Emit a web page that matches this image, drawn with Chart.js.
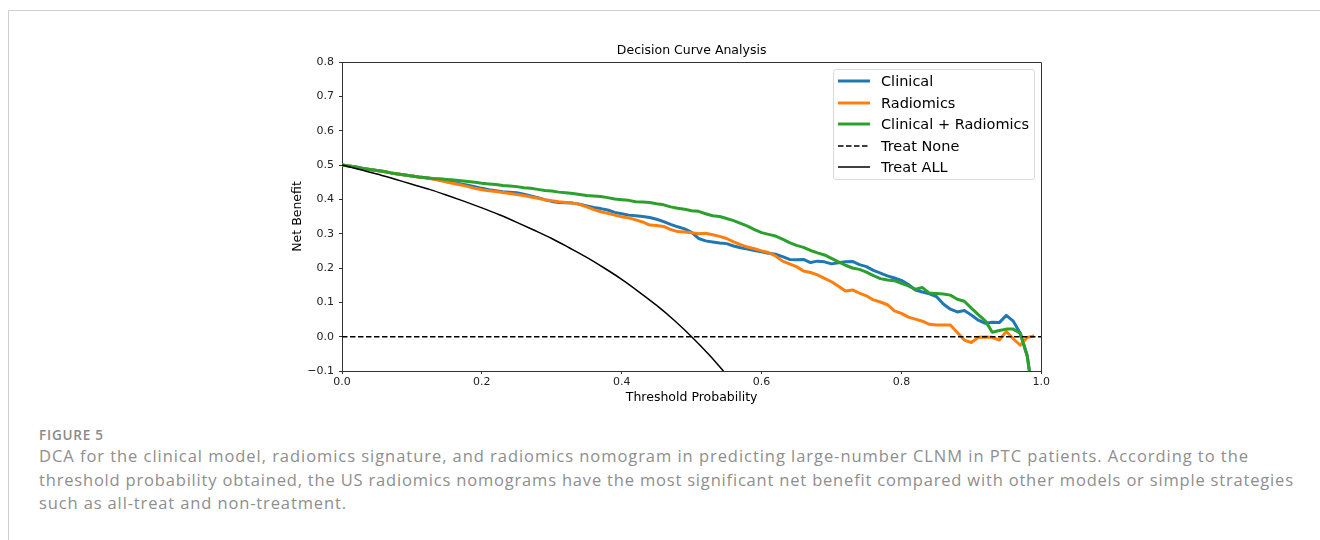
<!DOCTYPE html>
<html>
<head>
<meta charset="utf-8">
<script src="https://cdn.jsdelivr.net/npm/chart.js@4.4.1/dist/chart.umd.min.js"></script>
<style>
  html, body { margin: 0; padding: 0; background: #fff; width: 1320px; height: 540px; overflow: hidden; }
  #frame { position: absolute; left: 8px; top: 10px; width: 1330px; height: 560px; border-top: 1px solid #cfcfcf; border-left: 1px solid #cfcfcf; }
  #wrap { position: absolute; left: 240px; top: 20px; width: 812px; height: 400px; }
  #legend { position: absolute; left: 833px; top: 69px; width: 200px; height: 109px; border: 1px solid #dadada; border-radius: 3px; background: rgba(255,255,255,0.8); font-family: "DejaVu Sans"; font-size: 14.5px; color: #000; }
  .row { position: absolute; left: 0; height: 20px; line-height: 20px; white-space: nowrap; }
  .row svg { position: absolute; left: 4px; top: 8px; }
  .row span { position: absolute; left: 47px; top: 0; }
  #figlabel { position: absolute; left: 39px; top: 426.5px; font-family: "Open Sans"; font-weight: 600; font-size: 13.5px; line-height: 16px; color: #8a8a8a; white-space: nowrap; }
  .cap { position: absolute; left: 39px; font-family: "Open Sans"; font-weight: 400; font-size: 16.5px; color: #8e8e8e; white-space: nowrap; line-height: 24px; }
</style>
</head>
<body>
<div id="frame"></div>
<div id="wrap"><canvas id="c" width="812" height="400"></canvas></div>
<div id="legend"></div>
<div id="figlabel" data-w="64">FIGURE 5</div>
<div class="cap" data-w="1209" style="top:444px">DCA for the clinical model, radiomics signature, and radiomics nomogram in predicting large-number CLNM in PTC patients. According to the</div>
<div class="cap" data-w="1254" style="top:467.5px">threshold probability obtained, the US radiomics nomograms have the most significant net benefit compared with other models or simple strategies</div>
<div class="cap" data-w="307" style="top:491px">such as all-treat and non-treatment.</div>
<script>
const thresholds = [0.00,0.01,0.02,0.03,0.04,0.05,0.06,0.07,0.08,0.09,
  0.10,0.11,0.12,0.13,0.14,0.15,0.16,0.17,0.18,0.19,
  0.20,0.21,0.22,0.23,0.24,0.25,0.26,0.27,0.28,0.29,
  0.30,0.31,0.32,0.33,0.34,0.35,0.36,0.37,0.38,0.39,
  0.40,0.41,0.42,0.43,0.44,0.45,0.46,0.47,0.48,0.49,
  0.50,0.51,0.52,0.53,0.54,0.55,0.56,0.57,0.58,0.59,
  0.60,0.61,0.62,0.63,0.64,0.65,0.66,0.67,0.68,0.69,
  0.70,0.71,0.72,0.73,0.74,0.75,0.76,0.77,0.78,0.79,
  0.80,0.81,0.82,0.83,0.84,0.85,0.86,0.87,0.88,0.89,
  0.90,0.91,0.92,0.93,0.94,0.95,0.96,0.97,0.98,0.99];

const clinical = [0.500,0.497,0.494,0.490,0.487,0.484,0.481,0.477,0.474,0.471,
  0.468,0.465,0.463,0.460,0.457,0.453,0.449,0.445,0.441,0.437,
  0.432,0.428,0.425,0.422,0.421,0.419,0.415,0.410,0.405,0.399,
  0.394,0.391,0.390,0.389,0.386,0.381,0.376,0.373,0.369,0.362,
  0.358,0.354,0.352,0.350,0.347,0.342,0.335,0.327,0.320,0.314,
  0.304,0.286,0.279,0.276,0.273,0.271,0.264,0.259,0.255,0.251,
  0.247,0.243,0.240,0.233,0.225,0.224,0.225,0.216,0.220,0.218,
  0.212,0.215,0.218,0.219,0.210,0.204,0.193,0.185,0.177,0.171,
  0.164,0.152,0.136,0.130,0.125,0.117,0.095,0.080,0.072,0.076,
  0.063,0.048,0.039,0.042,0.041,0.062,0.045,0.010,-0.055,-0.200];

const radiomics = [0.500,0.497,0.494,0.490,0.487,0.484,0.481,0.477,0.474,0.471,
  0.468,0.465,0.463,0.459,0.455,0.450,0.446,0.442,0.437,0.432,
  0.428,0.425,0.423,0.420,0.417,0.414,0.411,0.407,0.403,0.399,
  0.396,0.393,0.391,0.389,0.385,0.378,0.370,0.364,0.359,0.354,
  0.349,0.346,0.340,0.334,0.325,0.324,0.321,0.312,0.306,0.305,
  0.303,0.300,0.301,0.297,0.292,0.286,0.276,0.268,0.261,0.256,
  0.250,0.245,0.235,0.220,0.212,0.204,0.191,0.187,0.180,0.170,
  0.160,0.147,0.133,0.136,0.127,0.119,0.107,0.101,0.093,0.075,
  0.068,0.057,0.051,0.045,0.036,0.034,0.034,0.034,0.012,-0.010,
  -0.017,-0.002,-0.001,-0.002,-0.010,0.015,-0.006,-0.025,-0.002,0.002];

const combined = [0.500,0.497,0.494,0.490,0.487,0.484,0.481,0.477,0.474,0.471,
  0.468,0.465,0.463,0.461,0.460,0.458,0.456,0.454,0.452,0.450,
  0.447,0.445,0.443,0.440,0.439,0.437,0.434,0.432,0.429,0.426,
  0.424,0.421,0.419,0.417,0.414,0.411,0.410,0.408,0.405,0.401,
  0.399,0.397,0.393,0.392,0.391,0.387,0.384,0.378,0.374,0.371,
  0.367,0.365,0.358,0.352,0.350,0.344,0.338,0.330,0.322,0.312,
  0.303,0.298,0.293,0.284,0.274,0.266,0.260,0.251,0.244,0.238,
  0.228,0.218,0.208,0.200,0.196,0.188,0.178,0.169,0.165,0.163,
  0.155,0.148,0.138,0.143,0.127,0.126,0.124,0.121,0.109,0.103,
  0.083,0.064,0.046,0.013,0.018,0.022,0.022,0.010,-0.058,-0.200];

const treatNoneX = [0.0, 1.0];
const treatNoneY = [0.0, 0.0];

const treatAllX = [0.000,0.025,0.050,0.075,0.100,0.125,0.150,0.175,0.200,0.225,0.250,
  0.275,0.300,0.325,0.350,0.375,0.400,0.425,0.450,0.475,0.500,0.525,0.550];
const treatAllY = [0.500,0.487,0.474,0.459,0.444,0.429,0.412,0.394,0.375,0.355,0.333,
  0.310,0.286,0.259,0.231,0.200,0.167,0.130,0.091,0.048,0.000,-0.053,-0.111];

const xTicks = [0.0, 0.2, 0.4, 0.6, 0.8, 1.0];
const yTicks = [-0.1, 0.0, 0.1, 0.2, 0.3, 0.4, 0.5, 0.6, 0.7, 0.8];

const chartTitle = "Decision Curve Analysis";
const xTitle = "Threshold Probability";
const yTitle = "Net Benefit";

const pts = (xs, ys) => xs.map((x, i) => ({ x: x, y: ys[i] }));

const FONT = "DejaVu Sans";

const datasets = [
  { label: "Clinical", data: pts(thresholds, clinical), borderColor: "#1f77b4", borderWidth: 3, order: 5 },
  { label: "Radiomics", data: pts(thresholds, radiomics), borderColor: "#ff7f0e", borderWidth: 3, order: 4 },
  { label: "Clinical + Radiomics", data: pts(thresholds, combined), borderColor: "#2ca02c", borderWidth: 3, order: 3 },
  { label: "Treat None", data: pts(treatNoneX, treatNoneY), borderColor: "#000000", borderWidth: 1.5, borderDash: [5.5, 2.5], order: 2 },
  { label: "Treat ALL", data: pts(treatAllX, treatAllY), borderColor: "#000000", borderWidth: 1.5, order: 1, cubicInterpolationMode: "monotone" }
];
datasets.forEach(d => {
  d.pointRadius = 0; d.pointHoverRadius = 0; d.fill = false; d.clip = 0;
  d.borderJoinStyle = "round"; d.backgroundColor = d.borderColor;
});

const framePlugin = {
  id: "frame",
  afterDatasetsDraw(chart) {
    const a = chart.chartArea, ctx = chart.ctx;
    ctx.save();
    ctx.strokeStyle = "#333";
    ctx.lineWidth = 1;
    ctx.beginPath();
    ctx.moveTo(Math.round(a.left) + 0.5, Math.round(a.top) + 0.5);
    ctx.lineTo(Math.round(a.right) + 0.5, Math.round(a.top) + 0.5);
    ctx.lineTo(Math.round(a.right) + 0.5, Math.round(a.bottom) + 0.5);
    ctx.stroke();
    ctx.restore();
  }
};

const chart = new Chart(document.getElementById("c"), {
  type: "line",
  data: { datasets: datasets },
  plugins: [framePlugin],
  options: {
    responsive: false,
    animation: false,
    devicePixelRatio: 1,
    layout: { padding: 0 },
    plugins: {
      legend: { display: false },
      tooltip: { enabled: false },
      title: {
        display: true, text: chartTitle, fullSize: false, color: "#000",
        font: { family: FONT, size: 12.5, weight: "normal", lineHeight: 1.2 },
        padding: { top: 23.5, bottom: 3.5 }
      }
    },
    scales: {
      x: {
        type: "linear", min: 0, max: 1,
        afterFit(s) { s.height = 49; },
        afterBuildTicks(s) { s.ticks = xTicks.map(v => ({ value: v })); },
        grid: { drawOnChartArea: false, drawTicks: true, tickLength: 3, tickWidth: 1, color: "#333" },
        border: { display: true, color: "#333", width: 1 },
        ticks: { color: "#222", padding: 2, maxRotation: 0, autoSkip: false,
          font: { family: FONT, size: 11, lineHeight: 1.2 },
          callback: v => v.toFixed(1) },
        title: { display: true, text: xTitle, color: "#000",
          font: { family: FONT, size: 12.5, lineHeight: 1.2 }, padding: { top: 0, bottom: 14.5 } }
      },
      y: {
        type: "linear", min: -0.1, max: 0.8,
        afterFit(s) { s.width = 102; },
        afterBuildTicks(s) { s.ticks = yTicks.map(v => ({ value: v })); },
        grid: { drawOnChartArea: false, drawTicks: true, tickLength: 3, tickWidth: 1, color: "#333" },
        border: { display: true, color: "#333", width: 1 },
        ticks: { color: "#222", padding: 5, autoSkip: false,
          font: { family: FONT, size: 11, lineHeight: 1.2 },
          callback: v => v.toFixed(1).replace("-", "\u2212") },
        title: { display: true, text: yTitle, color: "#000",
          font: { family: FONT, size: 12.5, lineHeight: 1.2 }, padding: { top: 50.5, bottom: 0 } }
      }
    }
  }
});

// HTML legend built from the chart's datasets
const legendEl = document.getElementById("legend");
chart.data.datasets.forEach((d, i) => {
  const row = document.createElement("div");
  row.className = "row";
  row.style.top = (1 + i * 21.5) + "px";
  const dash = d.borderDash ? ` stroke-dasharray="${d.borderDash.join(",")}"` : "";
  row.innerHTML = `<svg width="32" height="4"><line x1="0" y1="2" x2="32" y2="2" stroke="${d.borderColor}" stroke-width="${d.borderWidth}"${dash}/></svg><span>${d.label}</span>`;
  legendEl.appendChild(row);
});

// fit caption lines to the reference line widths with letter spacing
document.querySelectorAll("[data-w]").forEach(el => {
  const target = parseFloat(el.dataset.w);
  el.style.letterSpacing = "0px";
  const w = el.getBoundingClientRect().width;
  const n = el.textContent.length;
  if (n > 1) el.style.letterSpacing = ((target - w) / (n - 1)) + "px";
});
</script>
</body>
</html>
